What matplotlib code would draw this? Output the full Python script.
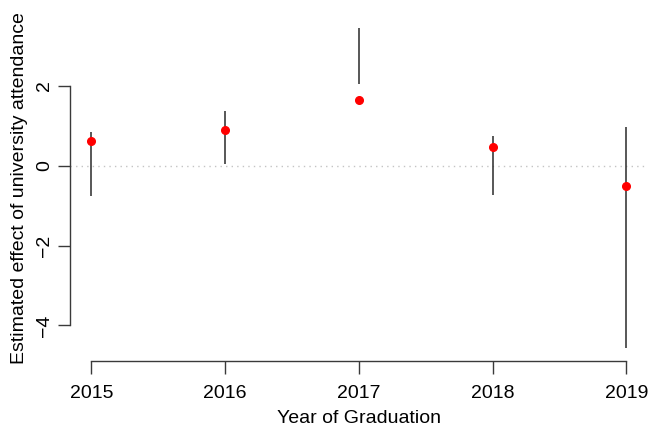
import numpy as np
import matplotlib
matplotlib.use("Agg")
import matplotlib.pyplot as plt

# estimates
years = [2015, 2016, 2017, 2018, 2019]
estimate = [0.62, 0.90, 1.65, 0.46, -0.51]
ci_low = [-0.77, 0.05, 2.04, -0.73, -4.57]
ci_high = [0.85, 1.36, 3.44, 0.75, 0.97]
ytick_vals = [-4, -2, 0, 2]

plt.rcParams['font.family'] = ['Liberation Sans', 'DejaVu Sans']
axis_col = "#3a3a3a"

fig = plt.figure(figsize=(6.49, 4.26), dpi=100)
ax = fig.add_axes([0.1079, 0.1526, 0.8901, 0.8108])

# R style 4% padding around the data range
x = np.array(years, dtype=float)
allv = np.concatenate([estimate, ci_low, ci_high])
xr = x.max() - x.min()
yr = allv.max() - allv.min()
ax.set_xlim(x.min() - 0.04 * xr, x.max() + 0.04 * xr)
ax.set_ylim(allv.min() - 0.04 * yr, allv.max() + 0.04 * yr)

ax.axhline(0, color="#c4c4c4", lw=1.0, ls=(0, (1, 3)), zorder=1)
ax.vlines(years, ci_low, ci_high, color="#2a2a2a", lw=1.1, zorder=2)
ax.plot(years, estimate, "o", color="red", ms=5.5, mec="red", zorder=3)

for side in ["top", "right"]:
    ax.spines[side].set_visible(False)
for side in ["left", "bottom"]:
    ax.spines[side].set_color(axis_col)
    ax.spines[side].set_linewidth(1.0)
ax.spines["left"].set_bounds(min(ytick_vals), max(ytick_vals))
ax.spines["bottom"].set_bounds(min(years), max(years))

ax.set_xticks(years)
ax.set_xticklabels([str(y) for y in years])
ax.set_yticks(ytick_vals)
ax.set_yticklabels(["\u2212" + str(abs(v)) if v < 0 else str(v) for v in ytick_vals])
ax.tick_params(direction="out", length=9.0, width=1.0, color=axis_col,
               labelsize=14, labelcolor="black")
ax.tick_params(axis="x", pad=8)
ax.tick_params(axis="y", pad=3)
for lab in ax.get_yticklabels():
    lab.set_rotation(90)
    lab.set_va("center")

ax.set_xlabel("Year of Graduation", fontsize=14, labelpad=6)
ax.set_ylabel("Estimated effect of university attendance", fontsize=14, labelpad=6)

fig.savefig("out.png", dpi=100)
